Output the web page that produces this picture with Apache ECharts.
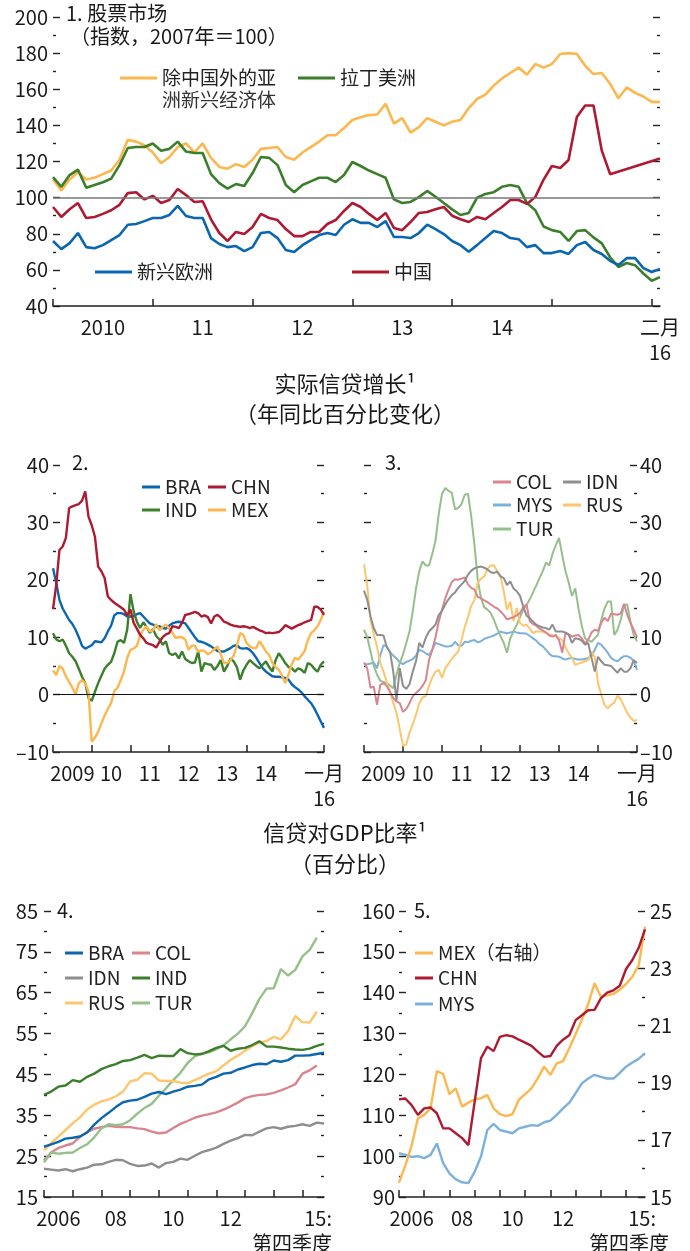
<!DOCTYPE html>
<html>
<head>
<meta charset="utf-8">
<script src="https://cdn.jsdelivr.net/npm/echarts@6/dist/echarts.min.js"></script>
<style>
html, body { margin: 0; padding: 0; background: #fff; }
#chart { width: 690px; height: 1251px; }
</style>
</head>
<body>
<div id="chart"></div>
<script>
// ---- categories ----
function monthList(y, m, n) {
  let out = [];
  for (let i = 0; i < n; i++) {
    let k = m - 1 + i;
    out.push((y + Math.floor(k / 12)) + '-' + String(k % 12 + 1).padStart(2, '0'));
  }
  return out;
}
function quarterList(y, n) {
  let out = [];
  for (let i = 0; i < n; i++) out.push((y + Math.floor(i / 4)) + 'Q' + (i % 4 + 1));
  return out;
}
const months1 = monthList(2010, 1, 74);   // 2010-01 .. 2016-02
const months2 = monthList(2009, 1, 85);   // 2009-01 .. 2016-01
const quarters = quarterList(2006, 40);   // 2006Q1 .. 2015Q4

// ---- 1. stock markets (index, 2007 = 100) ----
const asiaEx = [110,104,110,114,110,111,113,115,121,132,
  131,129,125,119,122.5,128,130,125,130,122,
  117,116,118.5,117,121,127,127.5,128,122.5,121,
  125,128,131,134.5,134.6,138.5,143,144.5,145.7,146,
  152,141,144,136,139,144,142,140,142,143,
  149.6,154.6,157,162,166,169,172,168,174,172,
  174,179.5,180,179.5,173,168.4,169,163,155,161,
  158,156,153,153];
const latam = [111.4,106,112.5,115.5,105.5,107,108.5,110.5,118,127.5,
  128,128,130,126,127,131,125.5,124.7,124.7,113,
  108,105,107.5,106.4,113.6,122.5,122,118,107,103,
  107,109,111,111,108.6,112.5,119.7,117.5,115,113,
  111,99,97,97.6,100.3,103.7,100.5,97,93.5,90.4,
  91.5,100,102,103,106,107,106,97,93,84,
  82,81,76,81.5,82,78,74.7,67,61.6,63.8,
  62.6,58,54,56];
const emEurope = [76,71.5,74.8,80.4,72.6,72,73.7,76.5,79.3,85,
  85.4,87,88.7,88.7,90.4,95.4,89.8,88.7,88.7,77.6,
  74.3,72.6,73.2,70.4,72.6,80.4,81,77.6,71,69.9,
  73.7,76.5,79.3,80.4,79.3,85,88,86,86,83.7,
  87,78.2,78.2,77.6,80.4,85,82.6,79.8,76,73.7,
  70,73.7,77.6,81.5,80.4,77.6,77,72.6,73.7,69.3,
  69.3,70.4,68.8,73.7,75.4,71,68.8,65,62.7,66.5,
  66.5,61,58.8,60.5];
const china = [94.8,89.3,93.6,97,88.7,89.3,91,93,96,102.5,
  103,99,101,97,98.7,104.8,101.4,97.6,98,88,
  80.4,76,81,79.8,83.7,91,88.7,87.6,82.6,78.7,
  78.7,81,81,85.4,87.6,92.6,97,94.8,91,87.6,
  91.5,83.2,82,86.5,91.5,92,93.6,94.8,90,88,
  86.5,89.3,88,91.5,94.8,98.7,98.7,96.5,100.3,110,
  117.5,116.4,120.8,144.6,151,151,126,113,null,null,
  null,null,null,121.7];

// ---- 2./3. real credit growth (y/y %) ----
const braGrowth = [22,19.5,16.5,15,14,13,12.3,11.3,10,8.5,
  8,8.3,8.6,9.3,9.2,9.1,9.8,11,12,13.8,
  14.2,14.2,14,13.6,13.6,13.7,14,14.2,13.6,13,
  12.4,12.2,11.8,11.9,11.6,11.5,12,12.4,12.6,12.7,
  12.6,12.4,11.6,10.8,10,9.3,9.2,9,8.7,8.4,
  8,7.6,7.5,7.5,7.8,8.1,8.5,8.6,8.1,8,
  8.1,7.8,7.2,6.4,5.5,4.6,4,3.6,3.2,3.1,
  3.1,3,2.9,2.6,1.8,1.3,0.9,0.4,-0.3,-0.9,
  -1.5,-2.4,-3.5,-4.7,-5.8];
const chnGrowth = [14.9,19.1,25.2,25.8,27.3,32.5,32.8,33,33.2,33.8,
  35.4,31,29.5,27.5,22.3,21.5,20.3,17.1,16.5,16,
  15.6,15.2,14.8,13.8,14.8,12.5,11.5,10.4,9.8,9,
  8.8,8.6,8.2,9.2,10,10.5,10.7,11.9,11.8,11.6,
  12.5,13.9,14,14.2,14.4,14.2,13.6,13.8,13.5,12.4,
  13.6,13.9,13.4,12.7,12.5,12.2,12,11.9,11.8,11.9,
  11.8,11.6,11.8,11.5,11.2,11,10.7,10.8,10.7,10.8,
  10.9,11.4,12.1,11.8,11.5,11.8,12.1,12.3,12.6,12.8,
  13,15.3,15.3,14.8,13.9];
const indGrowth = [10.7,9.6,9.3,9.6,8.5,7.2,6.6,5.8,4.5,3.1,
  2,-0.6,-1.1,0.5,2,3.3,4.5,5.2,5.7,7.2,
  9.2,9.5,9,11.3,17.5,14.5,12.7,11.6,12.6,11.8,
  10.8,11.4,10.2,9.6,8.7,9.3,7.2,6.9,7.2,6.3,
  7.5,6.2,5.8,5.5,5.6,7.5,4,5.5,5.3,5.2,
  4.3,5,6,4,5,6.3,5.8,4.8,2.6,4.2,
  5.2,6,5.5,5,4.6,5.2,5.8,4.8,4,6,
  7.2,6.4,5.5,4.8,4.6,4,4.6,4.3,3.8,5.5,
  5.2,4.5,4,5.2,5.8];
const mexGrowth = [4.2,3.4,5,4.5,3.2,2.2,1.2,0,2,2.5,
  2,0.5,-8.2,-7.5,-6.5,-5,-3.7,-2.5,-1.5,0.6,
  1.2,2.5,4,6.4,7.8,8,8.5,10.3,11.3,11.9,
  11,11.2,12.3,11.2,11.8,12.2,11.5,10.8,9.9,10,
  10,9.6,7.8,8.5,8.5,7.5,7.7,7.6,7,7.4,
  7.9,8.4,7,5.5,5.5,6,6.8,8.5,10.7,10.4,
  9,8.4,8.1,8.1,9.3,8.5,7.5,6.9,5.5,4.8,
  4.3,3.3,2,3.5,5.3,6.4,6.1,6.8,7.6,9.5,
  10.7,11.2,11.9,13,14.5];
const colGrowth = [5.6,4.6,1.2,1.4,-1.8,1.7,2,1.5,0.5,-0.6,
  -1.2,-1.5,-3,-2.5,-1.5,-0.3,0.3,0.8,1.5,2.5,
  6,7.8,10,12.7,14.8,16.8,18.3,19.6,20.1,20,
  20.2,20.4,19.2,18.6,18.3,17,16.8,16.4,16.1,15.7,
  15.3,15,14.5,13.9,13.1,13.3,13.5,13.8,14.2,15.2,
  15.7,12.8,12.3,12,11.5,11.2,10.8,10.3,10.1,10.4,
  9.5,7.3,10.8,10.5,10.1,10.3,10.4,9.8,8.9,9.6,
  10.8,11.3,11.1,12.5,13.4,12.8,14.1,14,13.9,14.1,
  15.8,13.9,12.5,11.3,10];
const idnGrowth = [18.1,16.5,13.6,11.6,10.4,10.4,10.3,8.3,7.5,4,
  -1,4.6,1.5,1,1.8,4,5.8,9,8.2,9.9,
  11,11.6,12.2,13.9,14.6,15.7,16.6,17.3,17.8,18.6,
  19.2,19.8,20.9,21.6,22,22.2,22.3,22.1,21.8,21.3,
  21.2,21.4,20.6,20.3,19.1,19.7,18.5,18,17.2,15.3,
  13.8,13.3,12.7,12.2,11.9,11.7,11.6,11.3,12.2,11,
  11,11,10.8,10.4,9,9.8,9.7,9.4,8.7,9,
  6.4,4,6.6,5.8,5.2,5.1,5,4.4,3.8,4.6,
  4,4,4.6,6,5.5];
const mysGrowth = [5.3,5.3,5.4,5.6,4.6,6.9,8.6,8.4,7.4,6.8,
  6.3,5.6,5.3,5.7,5.9,6.2,6.8,7.8,7.6,7.2,
  6.9,7.8,9,8.8,8.6,8.4,8.4,8.5,9.2,8.6,
  8.5,9.2,9.1,9.4,9.5,9.1,9.3,9.7,9.9,10.1,
  10.3,10.6,11,10.8,10.7,10.8,11,10.8,10.7,10.7,
  10.6,10.2,9.8,9.4,8.8,8.4,7.8,7.1,6.7,6.7,
  6.6,6.3,6.1,6.3,6.4,6.2,6.1,6.1,6.2,6.4,
  6.7,7.8,9,8.7,8,7.3,6.4,6,5.8,6.3,
  6.7,6.7,6.4,5.9,4.3];
const rusGrowth = [22.7,19,13,10.5,8.4,5.5,4,2.2,0.5,-1.5,
  -3.2,-6,-8.9,-8.7,-6.6,-5.2,-3.5,-1.5,-0.5,-0.3,
  1.5,3,4,4.3,2.9,4.6,5.4,6.2,6.9,7.5,
  9.5,11.8,13.5,15.5,16.5,19.5,20.2,20.6,21.8,22.5,
  22.5,21.5,20.6,18,14.8,16.2,12.8,15.1,12.5,12,
  12.2,11.5,10.7,11,11,11,10.8,10.5,10.3,10.2,
  9.8,9.5,8.2,7.2,6.4,5.2,5.4,5.6,5.8,6,
  7.5,6.5,2,0,-1.8,-2.4,-1.8,-1.4,-0.2,-0.8,
  -2,-3.2,-4,-4.6,-4.4];
const turGrowth = [11.3,10,7.5,5,3.5,2.4,2.2,2,1.6,1.1,
  3.5,5.5,7,9,11,14.5,18.5,21.5,23.2,22.5,
  22.5,24.5,26.8,31.5,35,36,35.5,35.2,32.3,32.5,
  33.2,34.8,35,31,26,20,16.8,15.2,14.8,14.2,
  13,11.5,10.2,9,7.3,9.8,11,12.2,13.5,14.8,
  15.6,16.6,17.8,19,20.3,21.5,23,22.5,24.5,26,
  27.3,24.3,21.5,19.5,17.2,18.5,15,12,9.8,9.5,
  9.2,9.8,10.4,13,15,16.2,16.2,10.4,11.3,13,
  15.6,15.7,12.7,10.4,9.3];

// ---- 4./5. credit-to-GDP ratio (%) ----
const braRatio = [27.3,27.9,28.5,29.3,29.5,29.8,30.8,32.7,34.3,35.6,
  37,38.2,38.6,38.8,39.5,40.3,40.7,40.2,40.8,41.3,
  42,42.2,42.5,43.8,44.4,45.2,45.4,46.2,46.7,47.3,
  47.6,47.5,48.4,48.1,48.5,49.6,49.6,49.7,50,50.3];
const colRatio = [24,25.9,27,27.6,28.1,29.7,30.9,31.7,32.1,32.4,
  32.2,32.1,32.1,31.8,31.6,31,30.6,30.8,31.9,32.9,
  33.6,34.4,34.9,35.3,35.7,36.4,37.2,38.1,39.2,39.7,
  40,40.1,40.5,41.1,41.8,42.6,45.2,46,47.2,null];
const idnRatio = [21.9,21.7,21.5,21.8,21.3,21.8,22.2,22.9,23,23.6,
  24.1,24,23.1,22.6,22.7,23.2,22.2,23.3,23.6,24.4,
  24.1,25.1,26,26.5,27.1,28,28.8,29.4,30.2,30.1,
  31,31.8,32.1,31.7,32.2,32.4,32.8,32.4,33.2,33];
const indRatio = [40,40.8,42,42.3,43.6,43.2,44.4,45.2,46.3,47,
  47.5,48.3,48.5,49.1,49.8,49,49.6,49.5,49.5,51.2,
  50.2,49.9,50,50.7,51.5,52,50.8,51.3,51.5,52.2,
  53.1,51.8,51.8,51.6,51.3,51.1,51,51.3,52,52.5];
const rusRatio = [26.4,28.2,29.8,31.4,33,34.5,36.4,37.6,38.4,38.9,
  39.6,40.8,43.3,43.7,45.3,45.2,43.5,43.4,43.4,43,
  42.8,43.6,44.4,45.2,45.8,47.2,48.6,49.6,50.8,51.9,
  52.8,53.2,54.2,53.6,55.6,59.3,57.8,57.7,60.4,null];
const turRatio = [23.5,25.9,25.6,25.8,25.9,27,27.9,29.6,31.8,32.8,
  32.6,32.8,33.8,35.4,36.8,37.8,39.8,41.6,43.6,45.4,
  47.8,49.4,50.1,50.4,51.2,52.1,53.6,55,56.8,60,
  63.5,66,66.1,70.8,69.2,70.6,73.9,75.5,78.4,null];
const mexRatio = [15.5,16.1,16.8,17.75,17.87,18.1,19.4,19.3,18.6,18.8,
  18.16,18.3,18.42,18.45,18.57,18.1,17.9,17.83,17.9,18.4,
  18.6,18.8,19.15,19.56,19.27,19.67,19.75,20.2,20.7,21.2,
  21.75,22.47,22,22.05,22.1,22.25,22.45,22.7,23.1,24.45];
const chnRatio = [113.9,114.1,112.5,110.1,111.7,111.9,110.5,106.8,106.8,105.6,
  104.4,102.7,null,124,126.8,125.7,129.2,129.6,129.3,128.5,
  127.8,127,125.6,124.3,124.5,127,128.5,129.6,133.3,134.5,
  135.7,135.8,138.6,140,140.6,141.7,145.8,148,151,155.5];
const mysRatio = [100.7,100.3,99.8,100,99.5,100.3,103.1,98.3,95.8,94.3,
  93.6,93.4,96.2,99.9,106.4,107.9,106.4,106,105.6,106.8,
  107.2,107.6,107.4,108.3,108.7,110.1,111.7,113.1,115.4,117.8,
  119,119.9,119.4,119,119,120.4,121.9,122.9,123.8,125.2];

// ---- colours ----
const C = {
  blue: '#0b66b2', red: '#ae1a32', green: '#3b7f2b', orange: '#fcb74e',
  pink: '#d9858f', gray: '#8e8e8e', ltblue: '#7cb0dd', ltorange: '#fdc66c', ltgreen: '#95c08a'
};

const NUM = "'Noto Sans CJK SC', sans-serif";
const INK = '#1a1a1a';

let chart = echarts.init(document.getElementById('chart'));

function catAxis(grid, data, tickFn, labelFn, fmt, rich) {
  return {
    type: 'category', gridIndex: grid, data: data, boundaryGap: false, position: 'bottom',
    axisLine: { show: true, onZero: false, lineStyle: { color: '#222', width: 1.5 } },
    axisTick: { show: true, inside: true, length: 7, interval: tickFn, lineStyle: { color: '#222', width: 1.5 } },
    axisLabel: { show: true, interval: labelFn, formatter: fmt, margin: 9, color: INK,
      showMinLabel: true, showMaxLabel: true,
      fontFamily: NUM, fontSize: 20, lineHeight: 25, rich: rich },
    splitLine: { show: false }
  };
}
function valAxis(grid, pos, min, max, step, showLabel, margin) {
  return {
    type: 'value', gridIndex: grid, position: pos, min: min, max: max, interval: step,
    axisLine: { show: false },
    axisTick: { show: true, inside: true, length: 7, lineStyle: { color: '#222', width: 1.4 } },
    minorTick: { show: true, splitNumber: 2, length: 3, lineStyle: { color: '#222', width: 1.4 } },
    splitLine: { show: false }, minorSplitLine: { show: false },
    axisLabel: { show: showLabel, margin: margin, color: INK, fontFamily: NUM, fontSize: 20,
      formatter: v => v < 0 ? '\u2013' + (-v) : String(v) }
  };
}
function line(name, data, xi, yi, color, w, extra) {
  return Object.assign({
    name: name, type: 'line', data: data, xAxisIndex: xi, yAxisIndex: yi,
    showSymbol: false, symbol: 'none', lineStyle: { color: color, width: w },
    itemStyle: { color: color }, emphasis: { disabled: true }, silent: true
  }, extra || {});
}
function leg(name, left, top, w, fmt) {
  return {
    data: [name], left: left, top: top, padding: 0, itemWidth: w, itemHeight: 3, icon: 'rect',
    selectedMode: false, formatter: fmt,
    textStyle: { color: '#222', fontFamily: NUM, fontSize: 19, lineHeight: 22 }
  };
}
function txt(text, left, top, size, extra) {
  return Object.assign({
    text: text, left: left, top: top, padding: 0,
    textStyle: { fontFamily: NUM, fontSize: size, fontWeight: 'normal', color: INK }
  }, extra || {});
}
// first labelled year in full, later ones as two digits
function yearLabel(firstIdx) {
  return (v, i) => i === firstIdx ? v.slice(0, 4) : v.slice(2, 4);
}
function grid(left, top, width, height) {
  return { left: left, top: top, width: width, height: height, containLabel: false, outerBoundsMode: 'none' };
}

const lab1 = yearLabel(6), lab2 = yearLabel(6), lab4 = yearLabel(2);
const endRich = { fontFamily: NUM, fontSize: 20, lineHeight: 25, color: INK, align: 'right' };

let option = {
  animation: false,
  backgroundColor: '#fff',
  title: [
    txt('1. 股票市场', 66, 3, 20),
    txt('（指数，2007年＝100）', 70, 26, 20),
    txt('洲新兴经济体', 162, 90, 19, { textStyle: { fontFamily: NUM, fontSize: 19, fontWeight: 'normal', color: '#333' } }),
    txt('实际信贷增长¹', 'center', 373, 22),
    txt('（年同比百分比变化）', 'center', 403, 22),
    txt('2.', 72, 452, 20),
    txt('3.', 385, 452, 20),
    txt('信贷对GDP比率¹', 'center', 822, 22),
    txt('（百分比）', 'center', 853, 22),
    txt('4.', 57, 900, 20),
    txt('5.', 414, 900, 20)
  ],
  legend: [
    leg('除中国外的亚洲新兴经济体', 120, 67, 37, () => '除中国外的亚'),
    leg('拉丁美洲', 298, 67, 37),
    leg('新兴欧洲', 95, 261, 37),
    leg('中国', 352, 261, 37),
    leg('BRA', 142, 476, 18), leg('CHN', 208, 476, 18),
    leg('IND', 142, 499, 18), leg('MEX', 208, 499, 18),
    leg('COL', 493, 471, 18), leg('IDN', 563, 471, 18),
    leg('MYS', 493, 494, 18), leg('RUS', 563, 494, 18),
    leg('TUR', 493, 518, 18),
    leg('BRA', 65, 942, 18), leg('COL', 132, 942, 18),
    leg('IDN', 65, 967, 18), leg('IND', 132, 967, 18),
    leg('RUS', 65, 992, 18), leg('TUR', 132, 992, 18),
    leg('MEX', 415, 942, 18, n => n + '（右轴）'),
    leg('CHN', 415, 967, 18),
    leg('MYS', 415, 993, 18)
  ],
  grid: [
    grid(53, 17, 607, 289),
    grid(53, 465, 271, 287),
    grid(364, 465, 273, 287),
    grid(44, 911, 280, 286),
    grid(399, 911, 246, 286)
  ],
  xAxis: [
    catAxis(0, months1, i => i % 12 === 0, i => (i % 12 === 6 && i < 66) || i === 73,
      (v, i) => i === 73 ? '二月\n16' : lab1(v, i)),
    catAxis(1, months2, i => i % 12 === 0, i => (i % 12 === 6 && i < 78) || i === 84,
      (v, i) => i === 84 ? '一月\n16' : lab2(v, i)),
    catAxis(2, months2, i => i % 12 === 0, i => (i % 12 === 6 && i < 78) || i === 84,
      (v, i) => i === 84 ? '一月\n16' : lab2(v, i)),
    catAxis(3, quarters, i => i % 4 === 0, i => (i % 8 === 2 && i <= 34) || i === 39,
      (v, i) => i === 39 ? '{e|15:}\n{e|第四季度}' : lab4(v, i),
      { e: Object.assign({ padding: [0, 64, 0, 0] }, endRich) }),
    catAxis(4, quarters, i => i % 4 === 0, i => (i % 8 === 2 && i <= 34) || i === 39,
      (v, i) => i === 39 ? '{a|15:}\n{b|第四季度}' : lab4(v, i),
      { a: Object.assign({ padding: [0, 45, 0, 0] }, endRich),
        b: Object.assign({ padding: [0, 32, 0, 0] }, endRich) })
  ],
  yAxis: [
    valAxis(0, 'left', 40, 200, 20, true, 5),
    valAxis(0, 'right', 40, 200, 20, false, 5),
    valAxis(1, 'left', -10, 40, 10, true, 4),
    valAxis(1, 'right', -10, 40, 10, false, 4),
    valAxis(2, 'left', -10, 40, 10, false, 4),
    valAxis(2, 'right', -10, 40, 10, true, 3),
    valAxis(3, 'left', 15, 85, 10, true, 6),
    valAxis(3, 'right', 15, 85, 10, false, 6),
    valAxis(4, 'left', 90, 160, 10, true, 4),
    valAxis(4, 'right', 15, 25, 2, true, 5)
  ],
  series: [
    line('除中国外的亚洲新兴经济体', asiaEx, 0, 0, C.orange, 2.6, {
      markLine: { silent: true, symbol: 'none', label: { show: false },
        lineStyle: { color: '#777', width: 1.5, type: 'solid' }, data: [{ yAxis: 100 }] } }),
    line('拉丁美洲', latam, 0, 0, C.green, 2.6),
    line('新兴欧洲', emEurope, 0, 0, C.blue, 2.6),
    line('中国', china, 0, 0, C.red, 2.6, { connectNulls: true }),

    line('BRA', braGrowth, 1, 2, C.blue, 2.4, {
      markLine: { silent: true, symbol: 'none', label: { show: false },
        lineStyle: { color: '#111', width: 1.2, type: 'solid' }, data: [{ yAxis: 0 }] } }),
    line('IND', indGrowth, 1, 2, C.green, 2.4),
    line('MEX', mexGrowth, 1, 2, C.orange, 2.4),
    line('CHN', chnGrowth, 1, 2, C.red, 2.4),

    line('MYS', mysGrowth, 2, 4, C.ltblue, 2, {
      markLine: { silent: true, symbol: 'none', label: { show: false },
        lineStyle: { color: '#111', width: 1.2, type: 'solid' }, data: [{ yAxis: 0 }] } }),
    line('TUR', turGrowth, 2, 4, C.ltgreen, 2),
    line('RUS', rusGrowth, 2, 4, C.ltorange, 2),
    line('COL', colGrowth, 2, 4, C.pink, 2),
    line('IDN', idnGrowth, 2, 4, C.gray, 2),

    line('IDN', idnRatio, 3, 6, C.gray, 2.4),
    line('COL', colRatio, 3, 6, C.pink, 2.4),
    line('TUR', turRatio, 3, 6, C.ltgreen, 2.4),
    line('RUS', rusRatio, 3, 6, C.ltorange, 2.4),
    line('IND', indRatio, 3, 6, C.green, 2.4),
    line('BRA', braRatio, 3, 6, C.blue, 2.4),

    line('MYS', mysRatio, 4, 8, C.ltblue, 2.4),
    line('MEX', mexRatio, 4, 9, C.orange, 2.4),
    line('CHN', chnRatio, 4, 8, C.red, 2.4, { connectNulls: true })
  ]
};

chart.setOption(option);
</script>
</body>
</html>
